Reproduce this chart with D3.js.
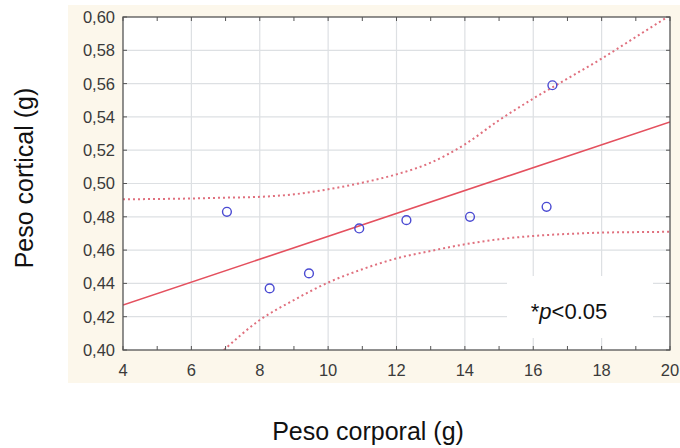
<!DOCTYPE html>
<html>
<head>
<meta charset="utf-8">
<script src="https://cdn.jsdelivr.net/npm/d3@7"></script>
<style>
  html, body { margin: 0; padding: 0; background: #ffffff; }
  svg { display: block; font-family: "Liberation Sans", Arial, sans-serif; }
</style>
</head>
<body>
<svg id="chart" width="680" height="448"></svg>
<script>
// Body weight (g) vs cortical weight (g)
const bodyWeight     = [7.04, 8.29, 9.44, 10.91, 12.29, 14.15, 16.39, 16.56];
const corticalWeight = [0.483, 0.437, 0.446, 0.473, 0.478, 0.480, 0.486, 0.559];

// Fitted regression line (end points)
const fitX = [4, 20];
const fitY = [0.427, 0.537];

// Confidence band, upper and lower limits
const upperX = [4, 5, 6, 7, 8, 9, 10, 11, 12, 13, 14, 15, 16, 17, 18, 19, 20];
const upperY = [0.4905, 0.4907, 0.491, 0.4915, 0.492, 0.4935, 0.4965, 0.5005, 0.5055,
                0.5125, 0.5235, 0.538, 0.551, 0.563, 0.575, 0.588, 0.601];
const lowerX = [6.95, 8, 9, 10, 11, 12, 13, 14, 15, 16, 17, 18, 19, 20];
const lowerY = [0.400, 0.418, 0.430, 0.4405, 0.4485, 0.455, 0.4595, 0.4635, 0.4665,
                0.4685, 0.4697, 0.4705, 0.4708, 0.471];

// Axis ticks
const xTicks = [4, 6, 8, 10, 12, 14, 16, 18, 20];
const xMinorTicks = d3.range(4, 21, 1);
const yTicks = [0.40, 0.42, 0.44, 0.46, 0.48, 0.50, 0.52, 0.54, 0.56, 0.58, 0.60];

const xTitle = "Peso corporal (g)";
const yTitle = "Peso cortical (g)";

const svg = d3.select("#chart");
const pL = 123, pR = 670, pT = 17, pB = 350;

const x = d3.scaleLinear().domain([4, 20]).range([pL, pR]);
const y = d3.scaleLinear().domain([0.40, 0.60]).range([pB, pT]);

// Panel background
svg.append("rect")
  .attr("x", 68).attr("y", 5).attr("width", 612).attr("height", 378)
  .attr("fill", "#fcf7eb");
svg.append("rect")
  .attr("x", pL).attr("y", pT).attr("width", pR - pL).attr("height", pB - pT)
  .attr("fill", "#ffffff");

// Grid
const grid = svg.append("g").attr("stroke", "#dde0e3").attr("stroke-width", 1.2);
grid.selectAll("line.gx").data(xTicks.slice(1, -1)).join("line")
  .attr("x1", d => x(d)).attr("x2", d => x(d))
  .attr("y1", pT).attr("y2", pB);
grid.selectAll("line.gy").data(yTicks.slice(1, -1)).join("line")
  .attr("x1", pL).attr("x2", pR)
  .attr("y1", d => y(d)).attr("y2", d => y(d));

// Annotation box (hides the grid behind the label)
svg.append("rect")
  .attr("x", 507).attr("y", 276).attr("width", 146).attr("height", 62)
  .attr("fill", "#ffffff");

svg.append("clipPath").attr("id", "plotclip")
  .append("rect").attr("x", pL).attr("y", pT).attr("width", pR - pL).attr("height", pB - pT);

const plot = svg.append("g").attr("clip-path", "url(#plotclip)");

// Confidence band
const bandLine = d3.line().x(d => x(d[0])).y(d => y(d[1])).curve(d3.curveMonotoneX);
[[upperX, upperY], [lowerX, lowerY]].forEach(([xs, ys]) => {
  plot.append("path")
    .datum(xs.map((v, i) => [v, ys[i]]))
    .attr("d", bandLine)
    .attr("fill", "none")
    .attr("stroke", "#e0707e")
    .attr("stroke-width", 2)
    .attr("stroke-dasharray", "2,3");
});

// Regression line
plot.append("path")
  .datum(fitX.map((v, i) => [v, fitY[i]]))
  .attr("d", d3.line().x(d => x(d[0])).y(d => y(d[1])))
  .attr("fill", "none")
  .attr("stroke", "#e4505e")
  .attr("stroke-width", 1.6);

// Points
plot.selectAll("circle").data(bodyWeight.map((v, i) => [v, corticalWeight[i]])).join("circle")
  .attr("cx", d => x(d[0])).attr("cy", d => y(d[1])).attr("r", 4.4)
  .attr("fill", "none").attr("stroke", "#4a4ad2").attr("stroke-width", 1.4);

// Axes with inward ticks on all four sides
const tickLen = 4;
const axisColor = "#555555";
const tickG = svg.append("g").attr("stroke", axisColor).attr("stroke-width", 1);
tickG.selectAll("line.tb").data(xMinorTicks).join("line")
  .attr("x1", d => x(d)).attr("x2", d => x(d)).attr("y1", pB).attr("y2", pB - tickLen);
tickG.selectAll("line.tt").data(xMinorTicks).join("line")
  .attr("x1", d => x(d)).attr("x2", d => x(d)).attr("y1", pT).attr("y2", pT + tickLen);
tickG.selectAll("line.tl").data(yTicks).join("line")
  .attr("x1", pL).attr("x2", pL + tickLen).attr("y1", d => y(d)).attr("y2", d => y(d));
tickG.selectAll("line.tr").data(yTicks).join("line")
  .attr("x1", pR).attr("x2", pR - tickLen).attr("y1", d => y(d)).attr("y2", d => y(d));

svg.append("rect")
  .attr("x", pL).attr("y", pT).attr("width", pR - pL).attr("height", pB - pT)
  .attr("fill", "none").attr("stroke", axisColor).attr("stroke-width", 1.3);

// Tick labels
const yFmt = d => d3.format(".2f")(d).replace(".", ",");
svg.append("g").selectAll("text").data(yTicks).join("text")
  .attr("x", 115).attr("y", d => y(d)).attr("dy", "0.36em")
  .attr("text-anchor", "end").attr("font-size", 16.5).attr("fill", "#3a3a3a")
  .text(yFmt);
svg.append("g").selectAll("text").data(xTicks).join("text")
  .attr("x", d => x(d)).attr("y", 376)
  .attr("text-anchor", "middle").attr("font-size", 16.5).attr("fill", "#3a3a3a")
  .text(d => d);

// Axis titles
svg.append("text")
  .attr("x", 368).attr("y", 440)
  .attr("text-anchor", "middle").attr("font-size", 25).attr("fill", "#111")
  .text(xTitle);
svg.append("text")
  .attr("transform", "translate(33,178) rotate(-90)")
  .attr("text-anchor", "middle").attr("font-size", 25).attr("fill", "#111")
  .text(yTitle);

// Significance note
const note = svg.append("text")
  .attr("x", 569).attr("y", 319)
  .attr("text-anchor", "middle").attr("font-size", 22).attr("fill", "#111");
note.append("tspan").text("*");
note.append("tspan").attr("font-style", "italic").text("p");
note.append("tspan").text("<0.05");
</script>
</body>
</html>
